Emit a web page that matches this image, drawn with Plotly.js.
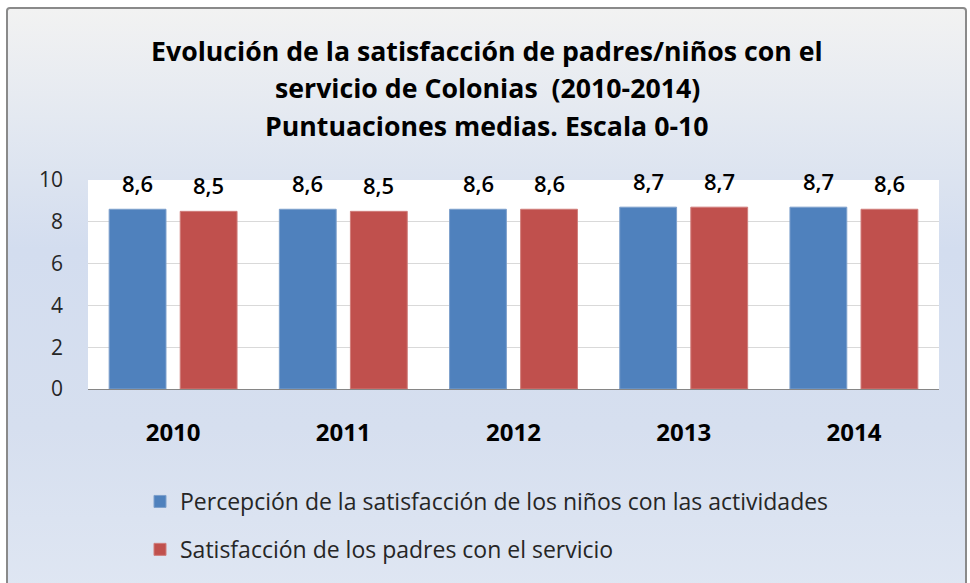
<!DOCTYPE html>
<html>
<head>
<meta charset="utf-8">
<script src="https://cdn.plot.ly/plotly-3.0.1.min.js"></script>
<style>
  html, body { margin: 0; padding: 0; background: #ffffff; width: 970px; height: 583px; overflow: hidden; }
  #frame {
    position: absolute; left: 6px; top: 7px; width: 957px; height: 600px;
    border: 2px solid #8a8a8a; border-radius: 4px;
    background: linear-gradient(to bottom, #f2f2f2 0%, #e4e9f1 18%, #d3ddef 40%, #d6dfef 70%, #e0e7f3 100%);
  }
  #chart { position: absolute; left: 0; top: 0; width: 970px; height: 583px; }
</style>
</head>
<body>
<div id="frame"></div>
<div id="chart"></div>
<script>
const years = ['2010', '2011', '2012', '2013', '2014'];
const ninos = [8.6, 8.6, 8.6, 8.7, 8.7];
const padres = [8.5, 8.5, 8.6, 8.7, 8.6];
const seriesNames = [
  'Percepción de la satisfacción de los niños con las actividades',
  'Satisfacción de los padres con el servicio'
];
const yTicks = [0, 2, 4, 6, 8, 10];
const titleLines = [
  'Evolución de la satisfacción de padres/niños con el',
  'servicio de Colonias  (2010-2014)',
  'Puntuaciones medias. Escala 0-10'
];

const FONT = '"Open Sans", "Noto Sans", sans-serif';
const fmt = v => v.toFixed(1).replace('.', ',');

const W = 970, H = 583;
const M = { l: 88, r: 31, t: 180, b: 194 };
const plotH = H - M.t - M.b;
const plotW = W - M.l - M.r;
const py = px => (H - M.b - px) / plotH;   // pixel row -> paper y
const pxx = px => (px - M.l) / plotW;      // pixel col -> paper x

const traces = [
  { type: 'bar', x: years, y: ninos, name: seriesNames[0], legendgroup: 'a',
    marker: { color: '#4F81BD', line: { color: '#7ea0cc', width: 1 } }, hoverinfo: 'skip' },
  { type: 'bar', x: years, y: padres, name: seriesNames[1], legendgroup: 'b',
    marker: { color: '#C0504D', line: { color: '#d07d7b', width: 1 } }, hoverinfo: 'skip' }
];

const annotations = [];
years.forEach((yr, i) => {
  // i = category index on the category axis
  annotations.push({ x: i, y: ninos[i], xref: 'x', yref: 'y', text: fmt(ninos[i]),
    showarrow: false, xshift: -35.5, yshift: 26, font: { family: FONT, size: 22, color: '#000', weight: 600 } });
  annotations.push({ x: i, y: padres[i], xref: 'x', yref: 'y', text: fmt(padres[i]),
    showarrow: false, xshift: 35.5, yshift: 26, font: { family: FONT, size: 22, color: '#000', weight: 600 } });
});
const titleY = [50, 87, 125];
titleLines.forEach((t, i) => {
  annotations.push({ x: pxx(487), y: py(titleY[i]), xref: 'paper', yref: 'paper',
    xanchor: 'center', yanchor: 'middle', text: t, showarrow: false,
    font: { family: FONT, size: 26.7, color: '#000', weight: 'bold' } });
});

const layout = {
  width: W, height: H,
  paper_bgcolor: 'rgba(0,0,0,0)',
  plot_bgcolor: '#ffffff',
  margin: M,
  barmode: 'group',
  bargap: 0.165,
  bargroupgap: 0.2,
  xaxis: {
    type: 'category',
    range: [-0.5, years.length - 0.5],
    autorange: false,
    tickfont: { family: FONT, size: 24, color: '#000', weight: 'bold' },
    ticklabelstandoff: 22,
    showline: true, linecolor: '#868686', linewidth: 1,
    ticks: '', showgrid: false, fixedrange: true
  },
  yaxis: {
    range: [0, 10],
    autorange: false,
    tickvals: yTicks,
    ticktext: yTicks.map(String),
    tickfont: { family: FONT, size: 21, color: '#262626' },
    ticklabelstandoff: 24,
    showgrid: true, gridcolor: '#d9d9d9', gridwidth: 1,
    zeroline: false, showline: false, ticks: '', fixedrange: true
  },
  showlegend: true,
  legend: {
    orientation: 'v',
    x: pxx(140), xref: 'paper', xanchor: 'left',
    y: py(480), yref: 'paper', yanchor: 'top',
    font: { family: FONT, size: 23, color: '#262626' },
    bgcolor: 'rgba(0,0,0,0)',
    tracegroupgap: 15,
    itemwidth: 30,
    traceorder: 'grouped'
  },
  annotations: annotations
};

Plotly.newPlot('chart', traces, layout, { displayModeBar: false, staticPlot: true });
</script>
</body>
</html>
